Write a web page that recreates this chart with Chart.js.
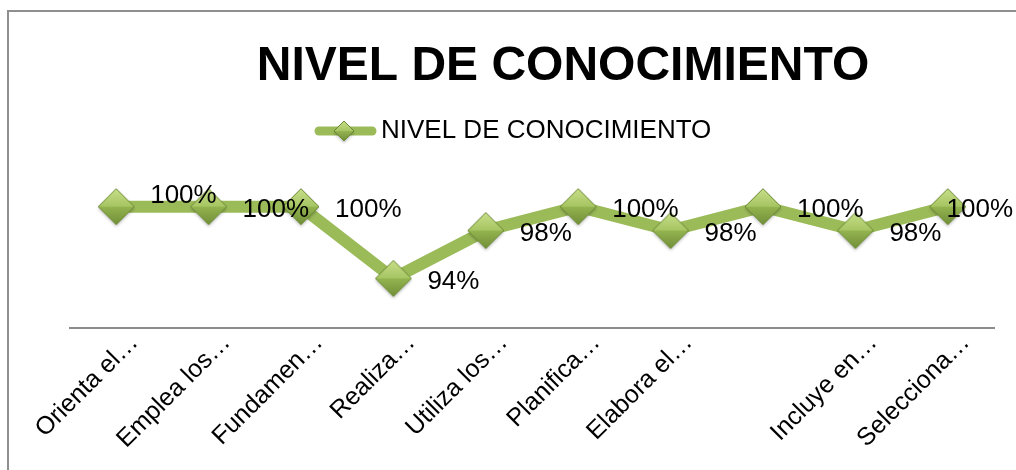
<!DOCTYPE html>
<html>
<head>
<meta charset="utf-8">
<script src="https://cdn.jsdelivr.net/npm/chart.js@4/dist/chart.umd.min.js"></script>
<style>
  html, body { margin: 0; padding: 0; background: #fff; overflow: hidden; }
  #frame { position: absolute; left: 7px; top: 10px; width: 1200px; height: 600px;
           border-left: 2px solid #8f8f8f; border-top: 2px solid #8f8f8f; }
  #wrap { position: absolute; left: 0; top: 0; width: 1016px; height: 470px; }
</style>
</head>
<body>
<div id="frame"></div>
<div id="wrap"><canvas id="nivelChart"></canvas></div>
<script>
// Categories and values
const categories = ['Orienta el…', 'Emplea los…', 'Fundamen…', 'Realiza…', 'Utiliza los…',
    'Planifica…', 'Elabora el…', '', 'Incluye en…', 'Selecciona…'];
const nivelValues = [100, 100, 100, 94, 98, 100, 98, 100, 98, 100];
const seriesName = 'NIVEL DE CONOCIMIENTO';
const chartTitle = 'NIVEL DE CONOCIMIENTO';

const GREEN = '#9BBB59';
const FONT = '"Liberation Sans", Arial, sans-serif';

// beveled diamond marker like the spreadsheet one
function makeDiamond(r) {
    const pad = 4;
    const c = document.createElement('canvas');
    c.width = c.height = 2 * (r + pad);
    const ctx = c.getContext('2d');
    const m = r + pad;
    ctx.save();
    ctx.shadowColor = 'rgba(0,0,0,0.25)';
    ctx.shadowBlur = 3;
    ctx.shadowOffsetY = 2;
    ctx.beginPath();
    ctx.moveTo(m, m - r); ctx.lineTo(m + r, m); ctx.lineTo(m, m + r); ctx.lineTo(m - r, m);
    ctx.closePath();
    ctx.fillStyle = '#8aab47';
    ctx.fill();
    ctx.restore();
    // top half
    let g = ctx.createLinearGradient(0, m - r, 0, m);
    g.addColorStop(0, '#c8df8a');
    g.addColorStop(1, '#a6c562');
    ctx.beginPath();
    ctx.moveTo(m - r, m); ctx.lineTo(m, m - r); ctx.lineTo(m + r, m); ctx.closePath();
    ctx.fillStyle = g; ctx.fill();
    // bottom half
    g = ctx.createLinearGradient(0, m, 0, m + r);
    g.addColorStop(0, '#94b450');
    g.addColorStop(1, '#728f38');
    ctx.beginPath();
    ctx.moveTo(m - r, m); ctx.lineTo(m, m + r); ctx.lineTo(m + r, m); ctx.closePath();
    ctx.fillStyle = g; ctx.fill();
    ctx.beginPath();
    ctx.moveTo(m, m - r); ctx.lineTo(m + r, m); ctx.lineTo(m, m + r); ctx.lineTo(m - r, m);
    ctx.closePath();
    ctx.strokeStyle = '#6b8934'; ctx.lineWidth = 1; ctx.stroke();
    return c;
}

function makeLegendMark() {
    const c = document.createElement('canvas');
    c.width = 66; c.height = 28;
    const ctx = c.getContext('2d');
    ctx.strokeStyle = GREEN; ctx.lineWidth = 9; ctx.lineCap = 'round';
    ctx.beginPath(); ctx.moveTo(8, 14); ctx.lineTo(61, 14); ctx.stroke();
    ctx.drawImage(makeDiamond(10), 33 - 14, 14 - 14);
    return c;
}

const diamond = makeDiamond(18);
const legendMark = makeLegendMark();

// title + legend header, drawn where the original has them
const headerPlugin = {
    id: 'header',
    afterDraw(chart) {
        const ctx = chart.ctx;
        ctx.save();
        ctx.fillStyle = '#000';
        ctx.textBaseline = 'middle';
        ctx.textAlign = 'center';
        ctx.font = 'bold 48px ' + FONT;
        ctx.fillText(chartTitle, 563, 67);
        ctx.drawImage(legendMark, 344 - legendMark.width / 2, 131 - legendMark.height / 2);
        ctx.textAlign = 'left';
        ctx.font = '26px ' + FONT;
        ctx.fillText(seriesName, 381, 131);
        ctx.restore();
    }
};

// value labels to the right of each marker
const valueLabels = {
    id: 'valueLabels',
    afterDatasetsDraw(chart) {
        const ctx = chart.ctx;
        const meta = chart.getDatasetMeta(0);
        ctx.save();
        ctx.font = '26px ' + FONT;
        ctx.fillStyle = '#000';
        ctx.textBaseline = 'middle';
        ctx.textAlign = 'left';
        meta.data.forEach((pt, i) => {
            const txt = nivelValues[i] + '%';
            const w = ctx.measureText(txt).width;
            let x = Math.min(pt.x + 34, chart.width - 3 - w);
            let y = pt.y + 3 + (i === 0 ? -14 : 0);
            ctx.fillText(txt, x, y);
        });
        ctx.restore();
    }
};

const nivelConfig = {
    type: 'line',
    data: {
        labels: categories,
        datasets: [{
            label: seriesName,
            data: nivelValues,
            borderColor: GREEN,
            backgroundColor: GREEN,
            borderWidth: 12,
            borderJoinStyle: 'round',
            tension: 0,
            pointStyle: diamond,
            pointRadius: 18,
            pointHoverRadius: 18,
            clip: false
        }]
    },
    options: {
        responsive: true,
        maintainAspectRatio: false,
        animation: false,
        layout: { autoPadding: false, padding: { left: 70, right: 22, top: 163, bottom: 0 } },
        plugins: {
            legend: { display: false },
            title: { display: false },
            tooltip: { enabled: false }
        },
        scales: {
            x: {
                offset: true,
                grid: { display: false },
                border: { display: true, color: '#8c8c8c', width: 2 },
                ticks: {
                    autoSkip: false,
                    maxRotation: 45,
                    minRotation: 45,
                    color: '#000',
                    font: { family: FONT, size: 25 },
                    padding: -8,
                    labelOffset: 18
                },
                afterFit(scale) {
                    scale.height = 142;
                    scale.paddingLeft = 0;
                    scale.paddingRight = 0;
                }
            },
            y: {
                display: false,
                min: 89.85,
                max: 103.65
            }
        }
    },
    plugins: [headerPlugin, valueLabels]
};

window.addEventListener('DOMContentLoaded', () => {
    new Chart(document.getElementById('nivelChart'), nivelConfig);
});
</script>
</body>
</html>
